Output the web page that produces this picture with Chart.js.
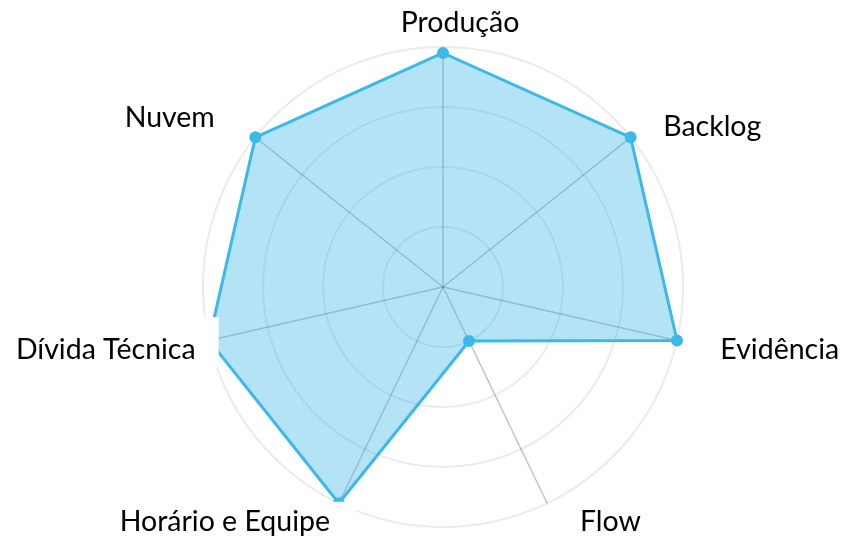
<!DOCTYPE html>
<html>
<head>
<meta charset="utf-8">
<script src="https://cdn.jsdelivr.net/npm/chart.js@4"></script>
<style>
  html, body { margin: 0; padding: 0; background: #fff; }
</style>
</head>
<body>
<canvas id="myChart" width="848" height="536"></canvas>
<script>
const categories = ["Produção", "Backlog", "Evidência", "Flow", "Horário e Equipe", "Dívida Técnica", "Nuvem"];
const scores = [3.9, 4, 4, 1, 4, 4, 4];
const scaleMax = 4;

// small shifts of each label from its axis end, px
const labelNudge = [[17, 1], [13, 5], [19, 4], [22, -4], [2, -4], [11, 4], [-21, -4]];

const blue = "#3cb9e8";

// labels are drawn by hand so the radar keeps its full radius
const axisLabels = {
  id: "axisLabels",
  afterDraw(chart) {
    const scale = chart.scales.r;
    const ctx = chart.ctx;
    ctx.save();
    ctx.font = "28.5px Lato";
    ctx.textBaseline = "middle";
    categories.forEach((label, i) => {
      const p = scale.getPointPosition(i, scale.drawingArea + 25);
      const h = Math.cos(p.angle);
      const w = ctx.measureText(label).width;
      const x = p.x + labelNudge[i][0];
      const y = p.y + labelNudge[i][1];
      let x0 = x - w / 2;
      if (h > 0.1) x0 = x;
      else if (h < -0.1) x0 = x - w;
      // white box behind the label
      ctx.fillStyle = "#fff";
      if (label === "Dívida Técnica") {
        ctx.fillRect(0, y - 33, x0 + w + 23, 51);
      } else {
        ctx.fillRect(x0 - 4, y - 20, w + 30, 37);
      }
      ctx.fillStyle = "#000";
      ctx.textAlign = "left";
      ctx.fillText(label, x0, y);
    });
    ctx.restore();
  },
};

const ctx = document.getElementById("myChart");

const myChart = new Chart(ctx, {
  type: "radar",
  data: {
    labels: categories,
    datasets: [
      {
        data: scores,
        backgroundColor: "rgba(54, 182, 230, 0.38)",
        borderColor: blue,
        borderWidth: 3,
        pointBackgroundColor: blue,
        pointBorderColor: blue,
        pointRadius: 4.5,
      },
    ],
  },
  options: {
    responsive: false,
    animation: false,
    devicePixelRatio: 1,
    layout: { padding: { top: 47, bottom: 9, left: 38, right: 0 } },
    plugins: {
      legend: { display: false },
      tooltip: { enabled: false },
    },
    scales: {
      r: {
        min: 0,
        max: scaleMax,
        ticks: { display: false, stepSize: 1 },
        grid: { circular: true, color: "#ebebeb", lineWidth: 2 },
        angleLines: { color: "rgba(0, 0, 0, 0.24)", lineWidth: 1.5 },
        pointLabels: { display: false },
      },
    },
  },
  plugins: [axisLabels],
});
</script>
</body>
</html>
